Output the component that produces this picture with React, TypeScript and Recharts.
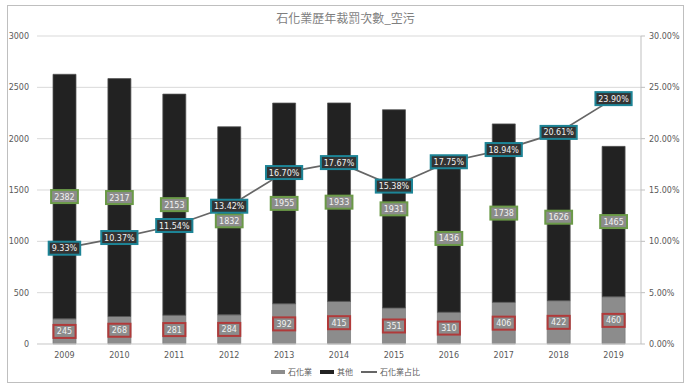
import { Bar, CartesianGrid, ComposedChart, LabelList, Line, XAxis, YAxis } from "recharts";

const years = ["2009", "2010", "2011", "2012", "2013", "2014", "2015", "2016", "2017", "2018", "2019"];
const petro = [245, 268, 281, 284, 392, 415, 351, 310, 406, 422, 460];
const others = [2382, 2317, 2153, 1832, 1955, 1933, 1931, 1436, 1738, 1626, 1465];
const share = [9.33, 10.37, 11.54, 13.42, 16.7, 17.67, 15.38, 17.75, 18.94, 20.61, 23.9];
const leftTicks = [0, 500, 1000, 1500, 2000, 2500, 3000];
const rightTicks = [0, 5, 10, 15, 20, 25, 30];

const data = years.map((year, i) => ({
  year,
  petro: petro[i],
  others: others[i],
  share: share[i],
}));

const FONT = "'DejaVu Sans', Verdana, sans-serif";
const CJK = "'Noto Sans CJK TC', 'Noto Sans CJK SC', sans-serif";

const boxLabel = (stroke: string, fill: string, fmt: (v: number) => string, isBar: boolean) => (props: any) => {
  const { x, y, width, height, value } = props;
  const cx = isBar ? Number(x) + Number(width) / 2 : Number(x);
  const cy = isBar ? Number(y) + Number(height) / 2 : Number(y);
  const txt = fmt(Number(value));
  const w = txt.length * 4.7 + 8;
  const h = 13;
  return (
    <g>
      <rect x={cx - w / 2} y={cy - h / 2} width={w} height={h} fill={fill} stroke={stroke} strokeWidth={2} />
      <text
        x={cx}
        y={cy + 3}
        textAnchor="middle"
        fontSize={8}
        fontFamily={FONT}
        fill="#f2f2f2"
      >
        {txt}
      </text>
    </g>
  );
};

const App = () => {
  return (
    <div style={{ position: "absolute", left: 0, top: 0, width: 691, height: 391, background: "#fff" }}>
      <div
        style={{
          position: "absolute",
          left: 7,
          top: 5,
          width: 675,
          height: 376,
          border: "1px solid #bfbfbf",
        }}
      />
      <div
        style={{
          position: "absolute",
          left: 0,
          width: 691,
          top: 9,
          textAlign: "center",
          fontFamily: CJK,
          fontSize: 12,
          color: "#7f7f7f",
        }}
      >
        石化業歷年裁罰次數_空污
      </div>
      <div style={{ position: "absolute", left: 0, top: 0 }}>
        <ComposedChart width={691} height={391} data={data} margin={{ top: 36, right: 0, bottom: 27, left: 0 }}>
          <CartesianGrid yAxisId="left" vertical={false} stroke="#d9d9d9" />
          <XAxis
            dataKey="year"
            axisLine={{ stroke: "#d9d9d9" }}
            tickLine={false}
            height={20}
            tick={{ fontSize: 8, fill: "#595959", fontFamily: FONT }}
            interval={0}
          />
          <YAxis
            yAxisId="left"
            width={37}
            domain={[0, 3000]}
            ticks={leftTicks}
            axisLine={false}
            tickLine={false}
            tick={{ fontSize: 8, fill: "#595959", fontFamily: FONT }}
          />
          <YAxis
            yAxisId="right"
            orientation="right"
            width={50}
            domain={[0, 30]}
            ticks={rightTicks}
            axisLine={{ stroke: "#bfbfbf" }}
            tickLine={{ stroke: "#bfbfbf" }}
            tickSize={4}
            tickMargin={4}
            tickFormatter={(v) => `${Number(v).toFixed(2)}%`}
            tick={{ fontSize: 8, fill: "#595959", fontFamily: FONT }}
          />
          <Bar
            yAxisId="left"
            dataKey="petro"
            stackId="a"
            fill="#8c8c8c"
            stroke="#7a7a7a"
            strokeWidth={0.75}
            barSize={23}
            isAnimationActive={false}
          >
            <LabelList dataKey="petro" content={boxLabel("#b03a3a", "#8c8c8c", (v) => String(v), true)} />
          </Bar>
          <Bar
            yAxisId="left"
            dataKey="others"
            stackId="a"
            fill="#222222"
            stroke="#555555"
            strokeWidth={0.75}
            barSize={23}
            isAnimationActive={false}
          >
            <LabelList dataKey="others" content={boxLabel("#6b9a48", "#8c8c8c", (v) => String(v), true)} />
          </Bar>
          <Line
            yAxisId="right"
            dataKey="share"
            type="linear"
            stroke="#666666"
            strokeWidth={1.75}
            dot={false}
            isAnimationActive={false}
          >
            <LabelList dataKey="share" content={boxLabel("#1d8496", "#333333", (v) => `${v.toFixed(2)}%`, false)} />
          </Line>
        </ComposedChart>
      </div>
      <div
        style={{
          position: "absolute",
          top: 366,
          left: 0,
          width: 691,
          display: "flex",
          justifyContent: "center",
          alignItems: "center",
          gap: 8,
          fontFamily: CJK,
          fontSize: 8,
          color: "#595959",
        }}
      >
        <span style={{ display: "flex", alignItems: "center", gap: 3 }}>
          <span style={{ width: 14, height: 4, background: "#8c8c8c" }} />
          石化業
        </span>
        <span style={{ display: "flex", alignItems: "center", gap: 3 }}>
          <span style={{ width: 14, height: 4, background: "#222" }} />
          其他
        </span>
        <span style={{ display: "flex", alignItems: "center", gap: 3 }}>
          <span style={{ width: 16, height: 2, background: "#666" }} />
          石化業占比
        </span>
      </div>
    </div>
  );
};

export default App;
